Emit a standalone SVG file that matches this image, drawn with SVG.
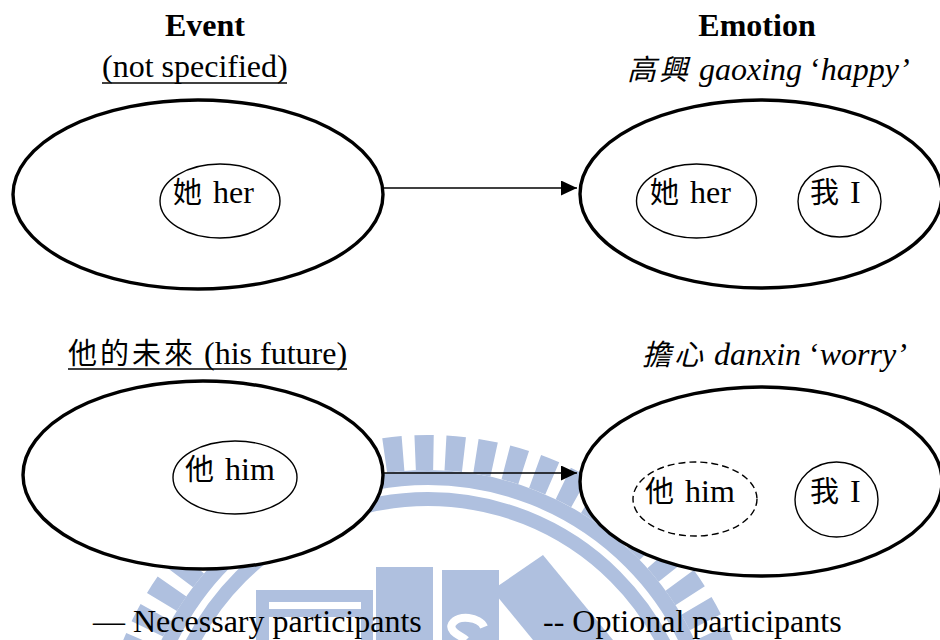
<svg xmlns="http://www.w3.org/2000/svg" width="940" height="640" viewBox="0 0 940 640">
  <defs>
    <style>
      text { font-family: "Liberation Serif", "Noto Sans CJK TC", serif; font-size: 32px; fill: #000; }
      .head { font-weight: bold; }
      .it { font-style: italic; }
      .cjk { font-family: "Noto Sans CJK TC", "Noto Sans CJK SC", sans-serif; font-size: 29px; font-weight: 400; letter-spacing: 3px; }
      .frame { fill: #fff; stroke: #000; stroke-width: 3.4; }
      .role { fill: #fff; stroke: #000; stroke-width: 1.4; }
      .opt { fill: #fff; stroke: #000; stroke-width: 1.4; stroke-dasharray: 7 4; }
      .wm { fill: #afc0df; }
      .wmring { fill: none; stroke: #afc0df; }
      .link { stroke: #000; stroke-width: 1.6; fill: none; }
    </style>
    <marker id="arrowhead" viewBox="0 0 16 15" refX="16" refY="7.5" markerWidth="16" markerHeight="15" markerUnits="userSpaceOnUse" orient="auto">
      <path d="M0,0 L16,7.5 L0,15 Z" fill="#000"/>
    </marker>
  </defs>

  <rect width="940" height="640" fill="#fff"/>

  <!-- background seal -->
  <g id="seal">
    <circle class="wmring" cx="428" cy="764" r="311.5" stroke-width="35" stroke-dasharray="18.5 12.08" stroke-dashoffset="13.5"/>
    <circle class="wmring" cx="428" cy="764" r="286.5" stroke-width="15"/>
    <circle class="wmring" cx="428" cy="764" r="265" stroke-width="14"/>
    <path class="wm" fill-rule="evenodd" d="M256,590 H373 V640 H361 V602 H269 V640 H256 Z"/>
    <rect class="wm" x="269" y="609" width="92" height="8"/>
    <rect class="wm" x="376" y="567" width="57" height="73"/>
    <rect class="wm" x="442" y="570" width="57" height="70"/>
    <path d="M484,627 C480,617 458,614 452,624 C448,632 462,636 466,640" fill="none" stroke="#fff" stroke-width="8"/>
    <polygon class="wm" points="492,590 543,555 613,640 533,640"/>
  </g>

  <!-- connectors -->
  <g id="connectors">
    <line class="link" x1="383" y1="188" x2="577" y2="188" marker-end="url(#arrowhead)"/>
    <line class="link" x1="383" y1="473" x2="577" y2="473" marker-end="url(#arrowhead)"/>
  </g>

  <!-- column headings -->
  <g id="headings">
    <text class="head" x="205" y="36" text-anchor="middle">Event</text>
    <text class="head" x="757" y="36" text-anchor="middle">Emotion</text>
  </g>

  <!-- event 1: unspecified -->
  <g id="event-1">
    <text x="102" y="77">(not specified)</text>
    <line x1="102" y1="83" x2="287" y2="83" stroke="#000" stroke-width="1.5"/>
    <ellipse class="frame" cx="198" cy="194.5" rx="185" ry="94.5"/>
    <ellipse class="role" cx="220" cy="201" rx="60" ry="37"/>
    <text x="173" y="203"><tspan class="cjk">她</tspan> her</text>
  </g>

  <!-- emotion 1: gaoxing -->
  <g id="emotion-1">
    <text x="627" y="80"><tspan class="cjk it">高興</tspan> <tspan class="it">gaoxing</tspan> ‘<tspan class="it">happy’</tspan></text>
    <ellipse class="frame" cx="761" cy="194" rx="181" ry="94"/>
    <ellipse class="role" cx="696.5" cy="201" rx="60" ry="37"/>
    <text x="650" y="203"><tspan class="cjk">她</tspan> her</text>
    <ellipse class="role" cx="839.5" cy="201.5" rx="41.5" ry="35.5"/>
    <text x="810" y="203"><tspan class="cjk">我</tspan> I</text>
  </g>

  <!-- event 2: his future -->
  <g id="event-2">
    <text x="68" y="364"><tspan class="cjk">他的未來</tspan> (his future)</text>
    <line x1="68" y1="369" x2="347" y2="369" stroke="#000" stroke-width="1.5"/>
    <ellipse class="frame" cx="203" cy="475" rx="180" ry="94"/>
    <ellipse class="role" cx="235" cy="477.5" rx="62" ry="36.5"/>
    <text x="185" y="480"><tspan class="cjk">他</tspan> him</text>
  </g>

  <!-- emotion 2: danxin -->
  <g id="emotion-2">
    <text x="642" y="365"><tspan class="cjk it">擔心</tspan> <tspan class="it">danxin</tspan> ‘<tspan class="it">worry’</tspan></text>
    <ellipse class="frame" cx="761" cy="481.5" rx="181" ry="94.5"/>
    <ellipse class="opt" cx="695" cy="499" rx="62" ry="37"/>
    <text x="645" y="502"><tspan class="cjk">他</tspan> him</text>
    <ellipse class="role" cx="836.5" cy="499.5" rx="41.5" ry="37.5"/>
    <text x="810" y="502"><tspan class="cjk">我</tspan> I</text>
  </g>

  <!-- legend -->
  <g id="legend">
    <text x="93" y="632">— Necessary participants</text>
    <text x="543" y="632">-- Optional participants</text>
  </g>
</svg>
